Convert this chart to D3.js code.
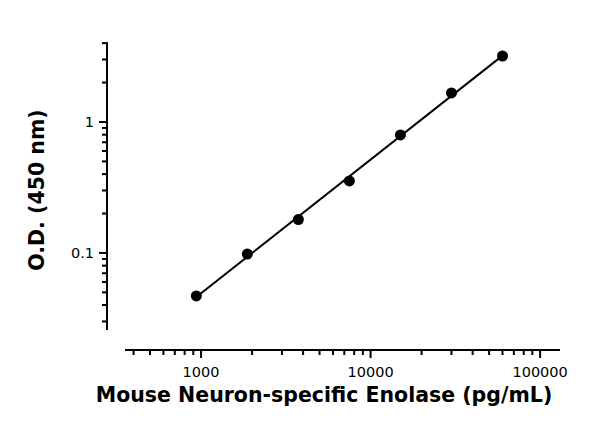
<!DOCTYPE html>
<html><head><meta charset="utf-8">
<script src="https://cdn.jsdelivr.net/npm/d3@7"></script>
<style>body{margin:0;background:#fff}</style>
</head><body>
<script>
// data
var conc = [938, 1875, 3750, 7500, 15000, 30000, 60000];
var od = [0.047, 0.098, 0.18, 0.355, 0.796, 1.665, 3.19];
var xTicks = [1000, 10000, 100000];
var yTicks = [0.1, 1];

var svg = d3.select('body').append('svg').attr('width', 600).attr('height', 421);

var x = d3.scaleLog().domain([356, 131000]).range([125, 560]);
var y = d3.scaleLog().domain([0.0258, 4.08]).range([330, 42]);

var font = 'DejaVu Sans, Verdana, sans-serif';

// minor ticks
var xMinor = [], yMinor = [];
[100, 1000, 10000, 100000].forEach(function(d){
  for (var i=1;i<10;i++){ var v=d*i; if (v>=356 && v<=131000) xMinor.push(v); }
});
[0.01, 0.1, 1].forEach(function(d){
  for (var i=1;i<10;i++){ var v=d*i; if (v>=0.0258 && v<=4.08) yMinor.push(v); }
});

var g = svg.append('g').attr('stroke', '#000').attr('stroke-width', 2);
g.append('line').attr('x1',125).attr('x2',560).attr('y1',350).attr('y2',350);
g.append('line').attr('x1',107).attr('x2',107).attr('y1',42).attr('y2',330);

g.selectAll('.xm').data(xMinor).enter().append('line')
  .attr('x1', function(d){return x(d)}).attr('x2', function(d){return x(d)})
  .attr('y1', 350).attr('y2', function(d){return xTicks.indexOf(d)>=0 ? 358 : 355});
g.selectAll('.ym').data(yMinor).enter().append('line')
  .attr('y1', function(d){return y(d)}).attr('y2', function(d){return y(d)})
  .attr('x1', 107).attr('x2', function(d){return yTicks.indexOf(+d.toPrecision(3))>=0 ? 99 : 102});

svg.selectAll('.xl').data(xTicks).enter().append('text')
  .attr('x', function(d){return x(d)}).attr('y', 377)
  .attr('text-anchor','middle').attr('font-family',font).attr('font-size',14.5)
  .text(function(d){return d});
svg.selectAll('.yl').data(yTicks).enter().append('text')
  .attr('x', 94).attr('y', function(d){return y(d)+5})
  .attr('text-anchor','end').attr('font-family',font).attr('font-size',14.5)
  .text(function(d){return d});

svg.append('text').attr('x', 324).attr('y', 402).attr('text-anchor','middle')
  .attr('font-family',font).attr('font-size',20.5).attr('font-weight','bold')
  .text('Mouse Neuron-specific Enolase (pg/mL)');
svg.append('text').attr('transform','translate(44,190) rotate(-90)').attr('text-anchor','middle')
  .attr('font-family',font).attr('font-size',20.5).attr('font-weight','bold')
  .text('O.D. (450 nm)');

// log-log fit line through the points
var lx = conc.map(Math.log10), ly = od.map(Math.log10);
var mx = d3.mean(lx), my = d3.mean(ly);
var b = d3.sum(lx.map(function(v,i){return (v-mx)*(ly[i]-my)})) / d3.sum(lx.map(function(v){return (v-mx)*(v-mx)}));
var a = my - b*mx;
var ends = [conc[0], conc[conc.length-1]];
svg.append('path')
  .attr('d', d3.line()(ends.map(function(c){return [x(c), y(Math.pow(10, a + b*Math.log10(c)))]})))
  .attr('fill','none').attr('stroke','#000').attr('stroke-width',2);

var pts = conc.map(function(c,i){return [x(c), y(od[i])]});
svg.selectAll('circle').data(pts).enter().append('circle')
  .attr('cx', function(d){return d[0]}).attr('cy', function(d){return d[1]})
  .attr('r', 5.5).attr('fill','#000');
</script>
</body></html>
